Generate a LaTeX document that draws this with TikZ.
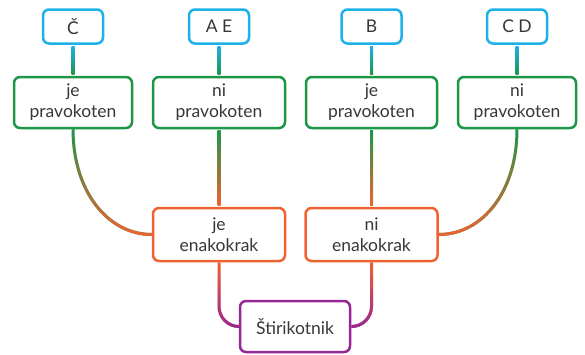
\documentclass[tikz,border=0pt]{standalone}
\usepackage{fontspec}
\setmainfont{Lato}
\usetikzlibrary{calc,fadings}

\definecolor{cblue}{RGB}{30,176,232}
\definecolor{cgreen}{RGB}{30,150,72}
\definecolor{corange}{RGB}{240,98,48}
\definecolor{cpurple}{RGB}{150,40,150}
\definecolor{tgray}{RGB}{55,55,55}

\tikzfading[name=fade down, top color=transparent!100, bottom color=transparent!0]

\begin{document}
\begin{tikzpicture}[x=1pt, y=1pt,
		lb/.style = {rectangle, rounded corners=6pt, draw=cblue,	line width=2.5pt, fill=white, text=tgray, minimum width=60, minimum height=34, font=\fontsize{17.5}{21}\selectfont},
		pv/.style = {rectangle, rounded corners=6pt, draw=cgreen,	line width=2.5pt, fill=white, text=tgray, minimum height=51, align=center, inner sep=2pt, font=\fontsize{17.5}{21}\selectfont},
		ek/.style = {rectangle, rounded corners=6pt, draw=corange,	line width=2.5pt, fill=white, text=tgray, minimum width=132, minimum height=53, align=center, inner sep=2pt, font=\fontsize{17.5}{21}\selectfont},
		st/.style = {rectangle, rounded corners=6pt, draw=cpurple,	line width=2.5pt, fill=white, text=tgray, minimum width=110, minimum height=51, font=\fontsize{17.5}{21}\selectfont},
		c/.style  = {line width=3pt},
		]
		\useasboundingbox (0,0) rectangle (585,-354);
		
		% === === Nodes === ===
		\node[lb]					(t1)	at	(73, -26.5)		{Č};
		\node[lb]					(t2)	at	(219, -26.5)	{A E};
		\node[lb]					(t3)	at	(371.5, -26.5)	{B};
		\node[lb]					(t4)	at	(517, -26.5)	{C D};
		
		\node[pv, minimum width=118]	(g1)	at	(73, -102.5)	{je\\pravokoten};
		\node[pv, minimum width=132]	(g2)	at	(219, -102.5)	{ni\\pravokoten};
		\node[pv, minimum width=131]	(g3)	at	(371.5, -102.5)	{je\\pravokoten};
		\node[pv, minimum width=118]	(g4)	at	(517, -102.5)	{ni\\pravokoten};
		
		\node[ek]					(o1)	at	(219, -234.5)	{je\\enakokrak};
		\node[ek]					(o2)	at	(371.5, -234.5)	{ni\\enakokrak};
		
		\node[st]					(p)		at	(295, -326.5)	{Štirikotnik};
		
		% === === Connectors === ===
		\foreach \i in {1,...,4}
			\shade[top color=cblue, bottom color=cgreen]	($(t\i.south)+(-1.5,-1.25)$) rectangle ($(g\i.north)+(1.5,1.25)$);
		\shade[top color=cgreen, bottom color=corange]	($(g2.south)+(-1.5,-1.25)$) rectangle ($(o1.north)+(1.5,1.25)$);
		\shade[top color=cgreen, bottom color=corange]	($(g3.south)+(-1.5,-1.25)$) rectangle ($(o2.north)+(1.5,1.25)$);
		
		\draw[c, cgreen]							(g1.south) .. controls +(0,-62) and +(-44,0) .. (o1.west);
		\draw[c, corange, path fading=fade down]	(g1.south) .. controls +(0,-62) and +(-44,0) .. (o1.west);
		\draw[c, cgreen]							(g4.south) .. controls +(0,-62) and +(44,0) .. (o2.east);
		\draw[c, corange, path fading=fade down]	(g4.south) .. controls +(0,-62) and +(44,0) .. (o2.east);
		
		\draw[c, corange, rounded corners=20pt]							(o1.south) |- (p.west);
		\draw[c, cpurple, rounded corners=20pt, path fading=fade down]	(o1.south) |- (p.west);
		\draw[c, corange, rounded corners=20pt]							(o2.south) |- (p.east);
		\draw[c, cpurple, rounded corners=20pt, path fading=fade down]	(o2.south) |- (p.east);
		
	\end{tikzpicture}
\end{document}
